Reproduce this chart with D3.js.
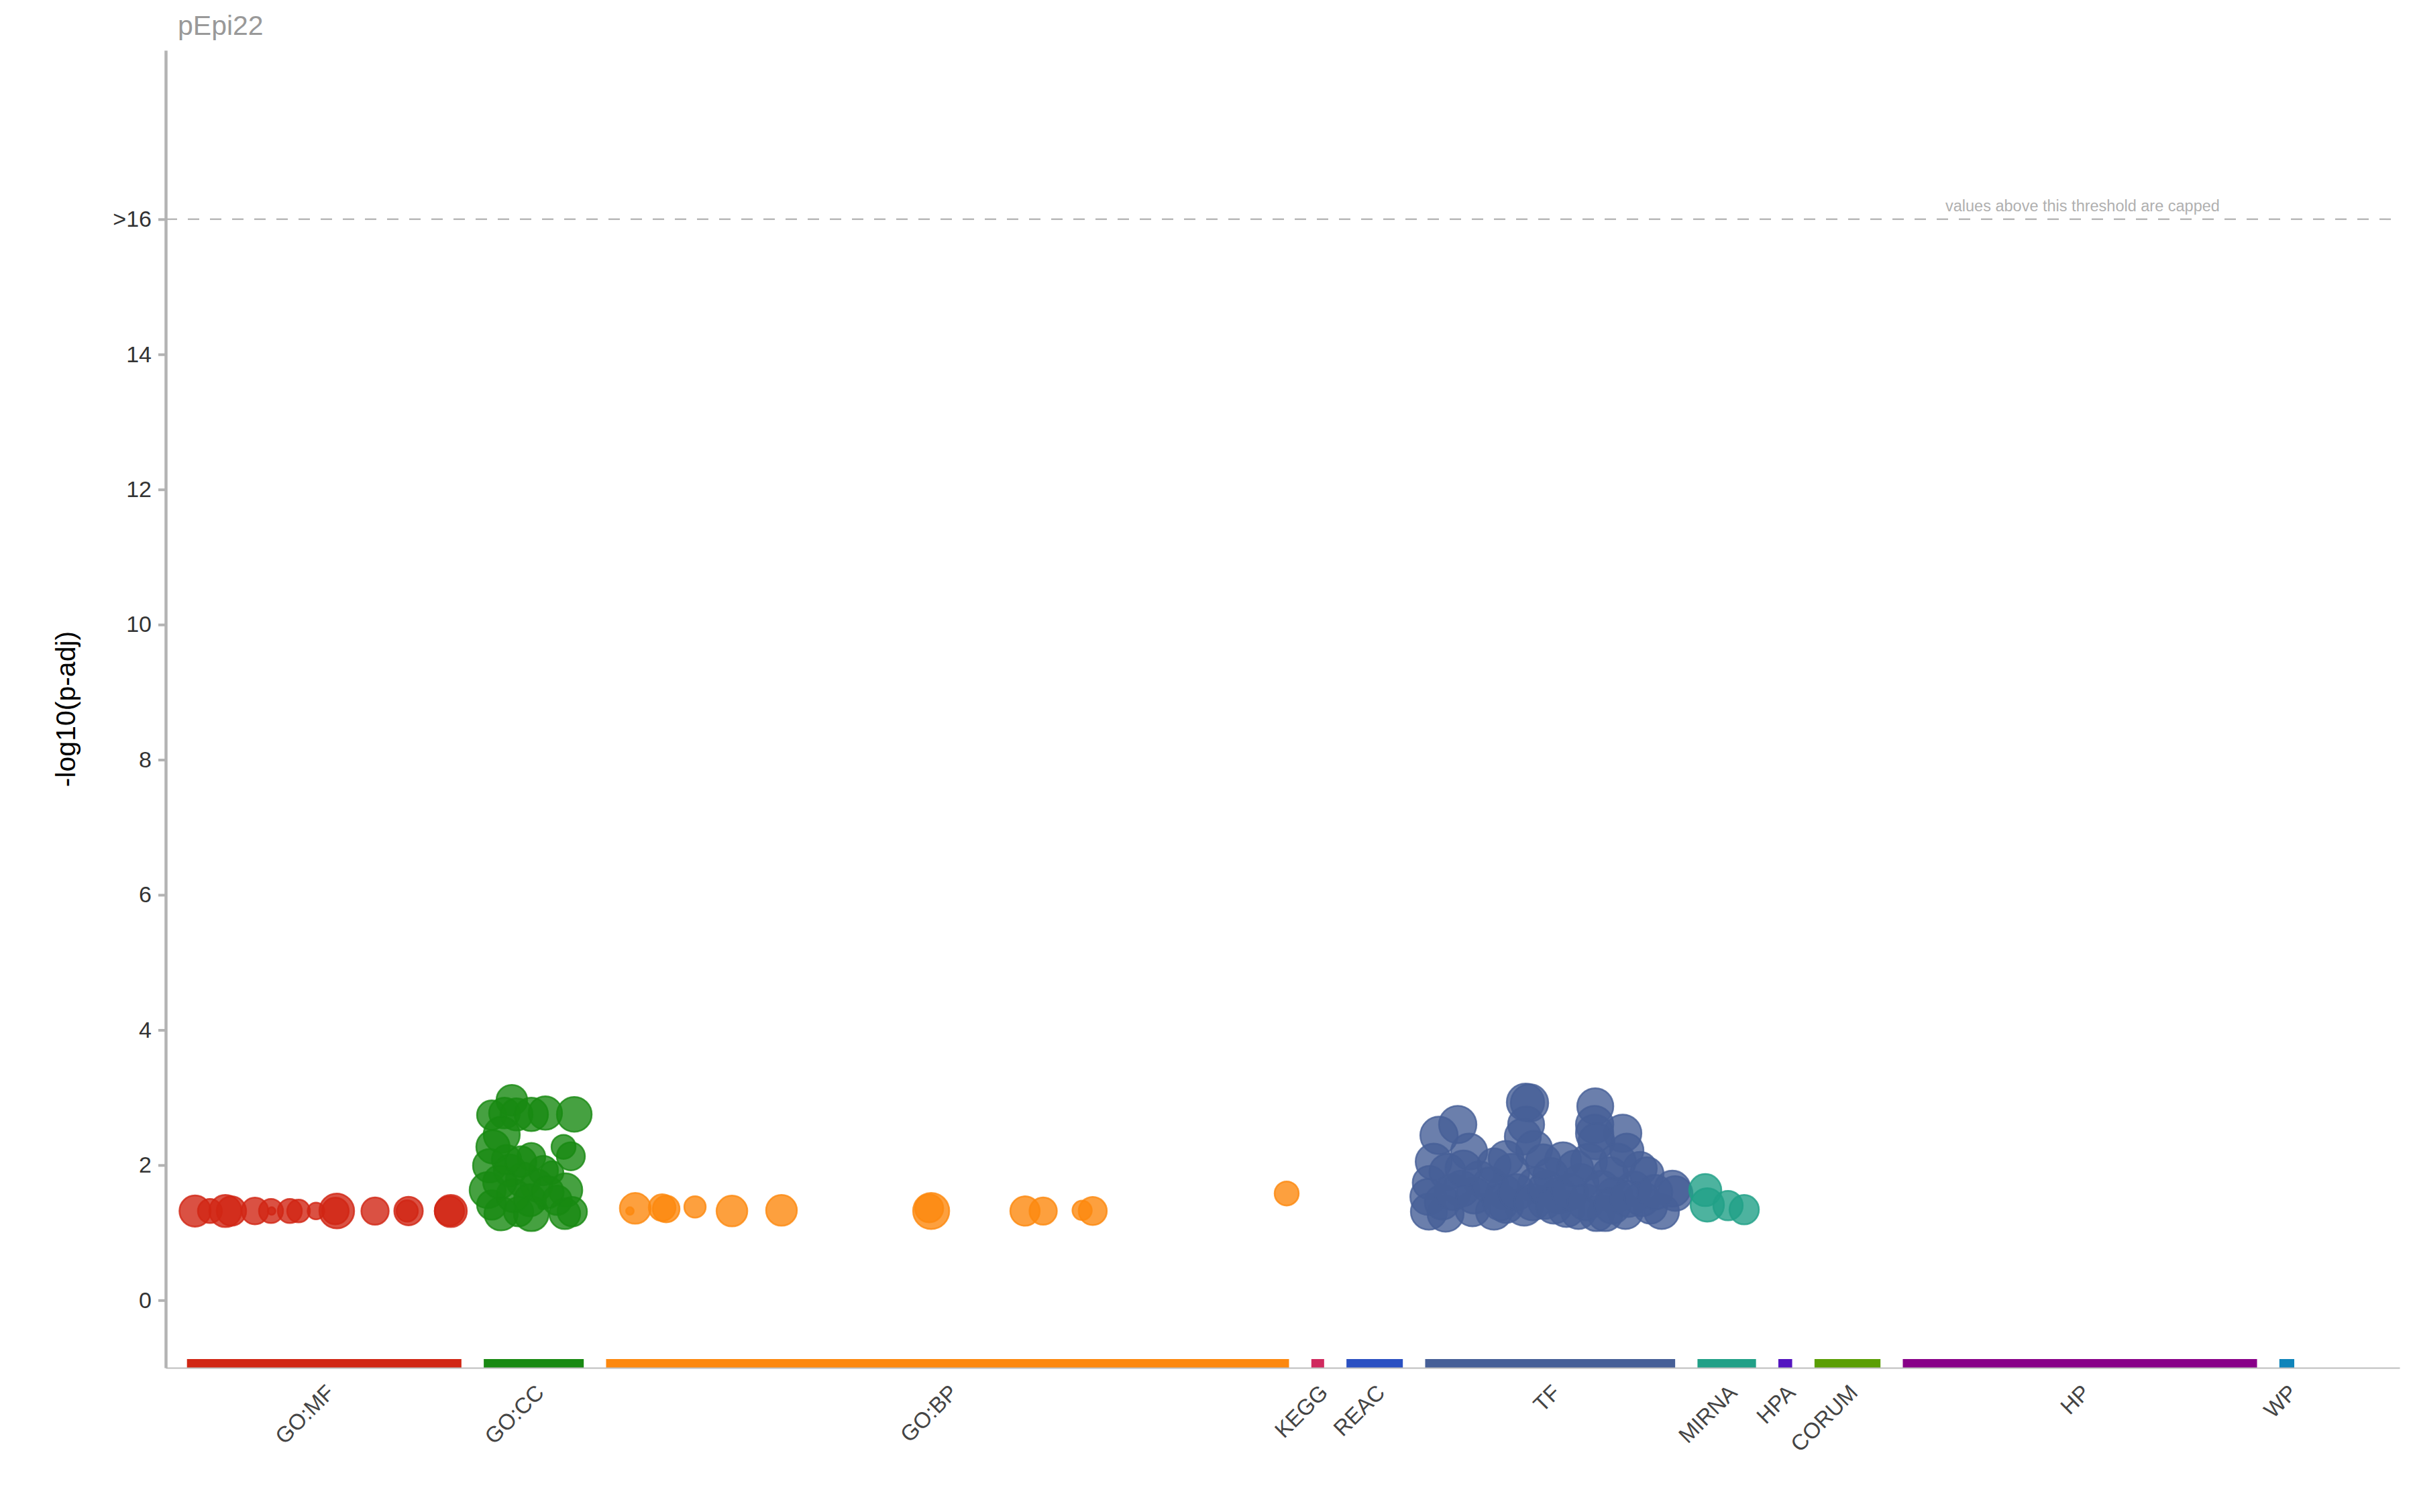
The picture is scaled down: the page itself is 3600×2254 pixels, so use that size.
<!DOCTYPE html>
<html>
<head>
<meta charset="utf-8">
<script src="https://cdn.jsdelivr.net/npm/d3@7"></script>
<style>
  html, body { margin: 0; padding: 0; background: #ffffff; }
  svg { display: block; font-family: "Liberation Sans", Arial, Helvetica, sans-serif; }
</style>
</head>
<body>
<svg id="chart" width="3600" height="2254"></svg>
<script>
// ---------------- DATA ----------------
const chartTitle = "pEpi22";
const yAxisTitle = "-log10(p-adj)";
const capNote = "values above this threshold are capped";
const yTickValues = [0, 2, 4, 6, 8, 10, 12, 14, 16];
const yTickLabels = ["0", "2", "4", "6", "8", "10", "12", "14", ">16"];
const capValue = 16;

const sources = ["GO:MF", "GO:CC", "GO:BP", "KEGG", "REAC", "TF", "MIRNA", "HPA", "CORUM", "HP", "WP"];
const sourceStart = [2.0, 29.9, 41.4, 107.7, 111.0, 118.4, 144.0, 151.6, 155.0, 163.3, 198.7];
const sourceEnd   = [27.8, 39.3, 105.6, 108.9, 116.3, 141.9, 149.5, 152.9, 161.2, 196.6, 200.1];
const sourceColors = ["#d12614", "#188912", "#fd880e", "#d02a5e", "#2a50c2", "#465f97",
                      "#21a087", "#5415c0", "#5a9e04", "#880088", "#0f84ba"];

// terms: [position on source axis, -log10(p-adj), term size]
const goMF = [
  [2.76, 1.32, 2200], [4.16, 1.32, 265], [5.61, 1.32, 2900], [6.18, 1.32, 1300],
  [8.39, 1.32, 590], [9.90, 1.32, 265], [9.96, 1.32, 2], [11.67, 1.32, 265],
  [12.49, 1.32, 180], [14.13, 1.32, 30], [16.08, 1.32, 6400], [15.95, 1.32, 590],
  [19.68, 1.32, 700], [22.83, 1.32, 1000], [22.70, 1.32, 120], [26.80, 1.32, 2900],
  [26.68, 1.32, 1300]
];
const goCC = [
  [32.54, 2.96, 1950], [30.65, 2.74, 1300], [31.85, 2.77, 1950], [32.98, 2.75, 2900],
  [34.37, 2.75, 4300], [35.69, 2.77, 4300], [38.41, 2.75, 6400],
  [31.59, 2.45, 9500], [30.77, 2.27, 4300], [37.40, 2.27, 265], [38.09, 2.13, 870],
  [34.37, 2.12, 870], [30.46, 1.99, 4300], [36.32, 1.89, 180], [30.27, 1.63, 9500],
  [37.59, 1.63, 4300], [31.53, 1.28, 4300], [33.17, 1.31, 1300], [34.37, 1.28, 6400],
  [37.52, 1.28, 1950], [38.22, 1.31, 1300], [35.38, 1.40, 2], [30.65, 1.41, 1300],
  [32.35, 1.92, 2900], [33.61, 1.78, 6400], [34.87, 1.70, 2900], [32.67, 1.55, 4300],
  [31.41, 1.75, 4300], [35.50, 1.92, 1300], [34.24, 1.48, 2900], [36.79, 1.48, 1300],
  [32.04, 2.08, 1300], [35.90, 1.60, 2900], [33.40, 2.05, 1950]
];
const goBP = [
  [44.14, 1.36, 1950], [43.64, 1.32, 2], [46.67, 1.37, 590], [47.05, 1.35, 590],
  [49.76, 1.38, 120], [53.23, 1.32, 1950], [57.89, 1.33, 1950], [71.96, 1.32, 9500],
  [71.77, 1.36, 870], [80.78, 1.32, 1300], [82.49, 1.32, 700], [86.15, 1.33, 65],
  [87.15, 1.32, 870], [105.38, 1.58, 265]
];
const tf = [
  [127.83, 2.93, 14000], [128.21, 2.92, 14000], [134.39, 2.87, 9500], [121.46, 2.60, 14000],
  [119.70, 2.44, 14000], [136.97, 2.47, 14000], [127.89, 2.60, 9500], [127.58, 2.42, 9500],
  [134.33, 2.60, 14000], [134.33, 2.47, 14000], [134.50, 2.35, 9500], [137.35, 2.22, 4300],
  [128.65, 2.24, 9500], [122.53, 2.20, 9500], [124.87, 2.00, 4300], [131.36, 2.07, 9500],
  [139.24, 1.87, 4300], [119.20, 2.05, 9500], [118.80, 1.74, 4300], [118.70, 1.53, 9500],
  [118.75, 1.31, 9500], [120.32, 1.28, 9500], [122.85, 1.35, 6400], [124.87, 1.31, 9500],
  [127.70, 1.38, 14000], [129.66, 1.45, 4300], [131.68, 1.35, 9500], [132.81, 1.31, 6400],
  [134.51, 1.28, 6400], [135.33, 1.28, 6400], [137.23, 1.31, 6400], [139.56, 1.38, 4300],
  [140.63, 1.31, 6400], [141.64, 1.65, 9500], [141.90, 1.58, 6400],
  [120.50, 1.90, 9500], [121.80, 1.65, 9500], [123.50, 1.80, 6400], [125.80, 1.60, 6400],
  [126.50, 1.90, 9500], [128.80, 1.70, 9500], [130.20, 1.85, 6400], [131.00, 1.55, 9500],
  [133.00, 1.75, 9500], [133.80, 2.05, 9500], [135.80, 1.85, 9500], [136.20, 1.55, 9500],
  [138.00, 1.65, 6400], [138.60, 1.95, 4300], [120.00, 1.45, 6400], [126.00, 1.40, 6400],
  [121.00, 1.60, 9500], [123.00, 1.55, 9500], [124.50, 1.70, 9500], [125.50, 1.45, 9500],
  [127.00, 1.60, 9500], [128.50, 1.45, 9500], [129.80, 1.65, 9500], [130.50, 1.40, 9500],
  [132.00, 1.60, 9500], [133.50, 1.45, 9500], [135.00, 1.65, 9500], [136.00, 1.40, 9500],
  [137.50, 1.50, 9500], [138.80, 1.50, 6400], [140.00, 1.60, 6400], [122.00, 1.95, 9500],
  [126.00, 2.10, 6400], [129.50, 2.05, 6400], [132.50, 1.95, 9500], [136.50, 2.05, 9500]
];
const mirna = [
  [144.73, 1.63, 2900], [144.92, 1.41, 4300], [146.87, 1.40, 1300], [148.39, 1.34, 1300]
];
const termsBySource = { "GO:MF": goMF, "GO:CC": goCC, "GO:BP": goBP, "TF": tf, "MIRNA": mirna };

// ---------------- CHART ----------------
const svg = d3.select("#chart");
const x = d3.scaleLinear().domain([0, 210]).range([247, 3577]);
const y = d3.scaleLinear().domain([-1, 18.5]).range([2039, 75]);
const rad = d3.scaleLinear().domain([0, 4.5]).range([4, 30]);
const colorOf = d3.scaleOrdinal().domain(sources).range(sourceColors);

// title
svg.append("text")
  .attr("x", 265).attr("y", 52)
  .attr("font-size", 41).attr("fill", "#999999")
  .text(chartTitle);

// cap line
svg.append("line")
  .attr("x1", x(0)).attr("x2", x(210))
  .attr("y1", y(capValue)).attr("y2", y(capValue))
  .attr("stroke", "#b8b8b8").attr("stroke-width", 2.5)
  .attr("stroke-dasharray", "17,16");
svg.append("text")
  .attr("x", x(180.2)).attr("y", y(capValue) - 12)
  .attr("text-anchor", "middle")
  .attr("font-size", 23.5).attr("fill", "#b0b0b0")
  .text(capNote);

// source bars along the bottom
const barG = svg.append("g");
sources.forEach((s, i) => {
  barG.append("rect")
    .attr("x", x(sourceStart[i]))
    .attr("width", x(sourceEnd[i]) - x(sourceStart[i]))
    .attr("y", y(-1) - 13)
    .attr("height", 13)
    .attr("fill", colorOf(s));
});

// bottom axis line
const xAxis = svg.append("g")
  .attr("transform", `translate(0,${y(-1)})`)
  .call(d3.axisBottom(x).tickValues([]).tickSizeOuter(0));
xAxis.select(".domain").attr("stroke", "#bdbdbd").attr("stroke-width", 2);

// source labels
sources.forEach((s, i) => {
  const cx = x((sourceStart[i] + sourceEnd[i]) / 2);
  svg.append("text")
    .attr("transform", `translate(${cx + 9},${2070}) rotate(-45)`)
    .attr("text-anchor", "end")
    .attr("dy", "0.35em")
    .attr("font-size", 33)
    .attr("fill", "#444444")
    .text(s);
});

// points
const ptsG = svg.append("g");
sources.forEach(s => {
  const arr = termsBySource[s];
  if (!arr) return;
  ptsG.selectAll(null)
    .data(arr)
    .enter()
    .append("circle")
    .attr("cx", d => x(d[0]))
    .attr("cy", d => y(d[1]))
    .attr("r", d => rad(Math.log10(d[2])))
    .attr("fill", colorOf(s))
    .attr("fill-opacity", 0.8)
    .attr("stroke", colorOf(s))
    .attr("stroke-opacity", 0.8)
    .attr("stroke-width", 2.5);
});

// y axis
const yAxis = svg.append("g")
  .attr("transform", `translate(${x(0)},0)`)
  .call(d3.axisLeft(y)
    .tickValues(yTickValues)
    .tickFormat((d, i) => yTickLabels[i])
    .tickSize(11)
    .tickSizeOuter(0)
    .tickPadding(10));
yAxis.select(".domain").attr("stroke", "#b3b3b3").attr("stroke-width", 4.5);
yAxis.selectAll(".tick line").attr("stroke", "#b3b3b3").attr("stroke-width", 4);
yAxis.selectAll(".tick text")
  .attr("font-size", 34)
  .attr("fill", "#333333")
  .attr("font-family", "'Liberation Sans', Arial, sans-serif");

// y axis title
svg.append("text")
  .attr("transform", `translate(${112},${(y(-1) + y(18.5)) / 2}) rotate(-90)`)
  .attr("text-anchor", "middle")
  .attr("font-size", 41)
  .attr("fill", "#000000")
  .text(yAxisTitle);
</script>
</body>
</html>
